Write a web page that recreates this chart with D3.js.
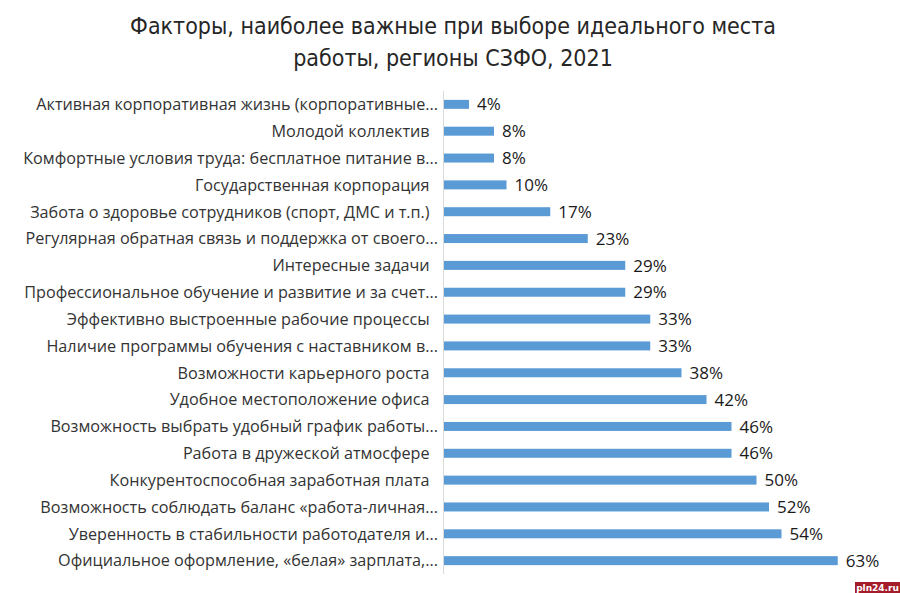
<!DOCTYPE html>
<html><head><meta charset="utf-8">
<script src="https://cdn.jsdelivr.net/npm/d3@7"></script>
<style>
html,body{margin:0;padding:0;background:#fff;}
svg{display:block;}
text{white-space:pre;}
</style></head>
<body>
<script>
const titleLines = ["Факторы, наиболее важные при выборе идеального места", "работы, регионы СЗФО, 2021"];
const categories = [
  "Активная корпоративная жизнь (корпоративные...",
  "Молодой коллектив  ",
  "Комфортные условия труда: бесплатное питание в...",
  "Государственная корпорация  ",
  "Забота о здоровье сотрудников (спорт, ДМС и т.п.)  ",
  "Регулярная обратная связь и поддержка от своего...",
  "Интересные задачи  ",
  "Профессиональное обучение и развитие и за счет...",
  "Эффективно выстроенные рабочие процессы  ",
  "Наличие программы обучения с наставником в...",
  "Возможности карьерного роста  ",
  "Удобное местоположение офиса  ",
  "Возможность выбрать удобный график работы...",
  "Работа в дружеской атмосфере  ",
  "Конкурентоспособная заработная плата  ",
  "Возможность соблюдать баланс «работа-личная...",
  "Уверенность в стабильности работодателя и...",
  "Официальное оформление, «белая» зарплата,..."
];
const values = [4, 8, 8, 10, 17, 23, 29, 29, 33, 33, 38, 42, 46, 46, 50, 52, 54, 63];
const watermark = "pln24.ru";

const W = 900, H = 593;
const svg = d3.select("body").append("svg").attr("width", W).attr("height", H);

svg.selectAll("text.title").data(titleLines).join("text")
  .attr("class","title")
  .attr("x", 453).attr("y", (d,i)=> 34 + i*32)
  .attr("text-anchor","middle")
  .attr("font-family","'Liberation Sans Narrow', 'DejaVu Sans Condensed', Roboto, sans-serif")
  .attr("font-size", 23)
  .attr("fill","#262626")
  .text(d=>d);

const x = d3.scaleLinear().domain([0, 100]).range([444, 444 + 625]);
const y = d3.scaleBand().domain(categories).range([91, 574]).paddingInner(0.665).paddingOuter(0.33);

svg.append("line").attr("x1", 443.5).attr("x2", 443.5).attr("y1", 91).attr("y2", 574)
  .attr("stroke","#d9d9d9").attr("stroke-width",1);

const data = categories.map((c,i)=>({c, v: values[i]}));

svg.selectAll("rect.bar").data(data).join("rect")
  .attr("class","bar")
  .attr("x", x(0)).attr("y", d=>y(d.c))
  .attr("width", d=>x(d.v)-x(0)).attr("height", y.bandwidth())
  .attr("fill","#5b9bd5");

svg.selectAll("text.val").data(data).join("text")
  .attr("class","val")
  .attr("x", d=>x(d.v)+8).attr("y", d=>y(d.c)+y.bandwidth()/2)
  .attr("dy","0.36em")
  .attr("font-family","'Open Sans', sans-serif")
  .attr("font-size", 17)
  .attr("font-weight", 500)
  .attr("fill","#1a1a1a")
  .text(d=>d.v + "%");

svg.selectAll("text.cat").data(data).join("text")
  .attr("class","cat")
  .attr("x", 438).attr("y", d=>y(d.c)+y.bandwidth()/2)
  .attr("dy","0.36em")
  .attr("text-anchor","end")
  .attr("font-family","'Open Sans', sans-serif")
  .attr("font-size", 16.2)
  .attr("fill","#333333")
  .text(d=>d.c);

const wm = svg.append("g");
wm.append("rect").attr("x", 855).attr("y", 582).attr("width", 45).attr("height", 11).attr("fill","#a51d2a");
wm.append("text").attr("x", 877.5).attr("y", 591).attr("text-anchor","middle")
  .attr("font-family","'DejaVu Sans', sans-serif").attr("font-size", 9).attr("font-weight","bold")
  .attr("fill","#fff").text(watermark);
</script>
</body></html>
